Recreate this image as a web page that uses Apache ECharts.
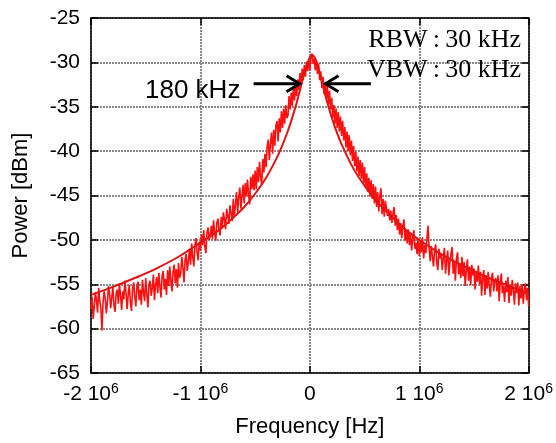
<!DOCTYPE html>
<html>
<head>
<meta charset="utf-8">
<script src="https://cdn.jsdelivr.net/npm/echarts@6/dist/echarts.min.js"></script>
<style>
html,body{margin:0;padding:0;background:#fff;}
#chart{width:556px;height:443px;}
</style>
</head>
<body>
<div id="chart"></div>
<script>
// ---- data ----
// measured spectrum: sampled every 10 kHz from -2 MHz to +2 MHz
const freqStart = -2e6;
const freqStep = 1e4;
const measuredPower = [
  -57.8,-56.4,-58.9,-57.5,-55.9,-56.8,-58.2,-55.4,-56.9,-57.6,
  -60.2,-57.1,-55.8,-56.6,-58.3,-57.0,-55.2,-56.1,-57.7,-56.5,
  -55.3,-57.4,-58.1,-56.0,-55.6,-57.2,-54.9,-56.3,-57.9,-55.8,
  -56.7,-54.6,-55.9,-57.8,-56.2,-55.1,-57.0,-58.0,-55.5,-54.8,
  -56.4,-57.5,-55.2,-54.7,-56.8,-55.6,-57.3,-54.5,-55.9,-56.9,
  -54.3,-56.1,-57.6,-55.0,-54.6,-56.3,-55.4,-53.9,-56.8,-55.1,
  -54.2,-56.0,-53.7,-55.3,-56.5,-54.0,-53.5,-55.6,-54.4,-56.2,
  -53.4,-55.2,-53.0,-54.6,-55.8,-53.6,-52.8,-54.9,-53.3,-55.4,
  -52.6,-54.3,-53.7,-51.9,-53.1,-54.8,-52.2,-51.6,-53.5,-52.4,
  -51.0,-52.8,-50.4,-51.9,-53.0,-50.6,-49.8,-51.4,-52.3,-50.2,
  -51.2,-49.4,-50.6,-48.9,-50.8,-51.5,-49.2,-48.6,-50.0,-49.5,
  -48.4,-49.9,-47.8,-49.2,-50.1,-48.1,-47.6,-48.9,-49.5,-47.4,
  -48.6,-46.9,-47.7,-48.8,-46.5,-47.3,-48.2,-46.1,-47.0,-47.9,
  -45.4,-47.3,-46.0,-44.6,-46.9,-45.2,-44.1,-46.5,-45.0,-43.8,
  -45.9,-43.6,-45.1,-43.2,-44.9,-46.0,-42.9,-44.3,-42.6,-44.4,
  -42.2,-44.3,-41.8,-43.5,-41.2,-42.9,-43.8,-40.9,-42.4,-40.3,
  -41.8,-39.5,-38.7,-41.0,-39.2,-37.9,-40.3,-37.6,-39.4,-37.1,
  -36.6,-38.9,-36.3,-37.9,-35.5,-37.4,-35.2,-36.9,-34.8,-36.3,
  -36.0,-33.8,-35.3,-33.4,-34.9,-32.7,-34.3,-32.5,-33.8,-31.9,
  -33.1,-31.2,-32.5,-30.7,-32.0,-30.3,-31.6,-29.9,-31.0,-29.7,
  -30.9,-29.4,-29.0,-30.2,-29.6,-30.9,-29.7,-31.3,-30.1,-32.0,
  -31.0,-32.9,-31.6,-33.6,-32.2,-34.1,-32.6,-34.7,-33.2,-35.3,
  -34.0,-36.2,-34.8,-36.9,-35.2,-37.4,-35.6,-37.8,-36.1,-38.3,
  -36.6,-38.8,-37.3,-39.6,-37.8,-40.0,-38.2,-40.5,-38.8,-41.1,
  -39.4,-41.7,-40.1,-42.3,-40.6,-42.8,-41.0,-43.1,-41.3,-43.6,
  -41.8,-44.1,-42.5,-44.6,-43.0,-45.1,-43.3,-45.4,-43.7,-45.9,
  -44.0,-46.3,-44.6,-46.8,-45.0,-44.2,-47.1,-45.4,-47.4,-45.6,
  -45.6,-47.3,-46.5,-47.8,-46.7,-48.1,-47.0,-46.3,-48.4,-47.2,
  -48.9,-47.6,-49.4,-48.1,-49.8,-48.5,-47.7,-50.1,-48.9,-50.4,
  -48.8,-50.6,-49.3,-51.2,-49.8,-48.9,-51.0,-50.3,-51.6,-49.9,
  -51.8,-50.2,-51.4,-49.7,-52.1,-50.6,-51.5,-49.9,-48.4,-50.9,
  -52.4,-50.7,-51.8,-53.0,-51.2,-50.5,-52.6,-53.4,-51.0,-52.1,
  -51.5,-53.4,-52.0,-50.9,-53.8,-52.3,-51.2,-54.0,-52.6,-51.6,
  -50.8,-53.8,-52.4,-54.6,-52.1,-51.4,-53.9,-52.7,-54.3,-51.9,
  -54.1,-52.5,-55.2,-53.4,-52.2,-54.6,-53.0,-55.1,-52.8,-54.0,
  -53.2,-55.6,-53.5,-54.7,-52.9,-55.0,-53.6,-56.3,-54.2,-53.4,
  -56.2,-54.0,-55.5,-53.6,-55.1,-56.4,-54.3,-53.7,-55.8,-54.6,
  -54.3,-55.8,-54.0,-56.9,-54.8,-53.8,-56.0,-55.2,-57.0,-54.6,
  -55.9,-54.2,-57.1,-55.0,-56.3,-54.5,-55.7,-57.3,-54.9,-56.0,
  -54.8,-57.4,-55.2,-56.6,-55.0,-57.2,-55.6,-54.9,-56.8,-55.4,
  -57.5
];
// fitted (smooth) curve
const fitFreq = [-2.0e6,-1.8e6,-1.6e6,-1.4e6,-1.2e6,-1.0e6,-0.9e6,-0.8e6,-0.7e6,-0.6e6,-0.5e6,-0.4e6,-0.3e6,
  -0.25e6,-0.2e6,-0.15e6,-0.1e6,-0.05e6,0,0.02e6,0.05e6,0.1e6,0.15e6,0.2e6,0.25e6,0.3e6,
  0.4e6,0.5e6,0.6e6,0.7e6,0.8e6,0.9e6,1.0e6,1.2e6,1.4e6,1.6e6,1.8e6,2.0e6];
const fitPower = [-56.2,-55.3,-54.3,-53.2,-51.9,-50.3,-49.5,-48.6,-47.5,-46.3,-44.8,-43.0,-40.7,
  -39.3,-37.7,-35.8,-33.6,-31.2,-29.4,-29.2,-29.6,-31.7,-34.1,-36.2,-38.0,-39.5,
  -42.0,-43.9,-45.5,-46.8,-48.0,-49.1,-50.0,-51.6,-52.9,-54.1,-55.1,-56.1];
// axis ticks
const xTicks = [-2e6,-1e6,0,1e6,2e6];
const yTicks = [-65,-60,-55,-50,-45,-40,-35,-30,-25];
// annotation: 180 kHz linewidth arrows (data coordinates)
const arrowLevel = -32.4;
const arrowLeft = [-0.514e6, -0.094e6];   // from, tip
const arrowRight = [0.558e6, 0.143e6];    // from, tip
const labels = {width: '180 kHz', rbw: 'RBW\u2009:\u200930 kHz', vbw: 'VBW\u2009:\u200930 kHz',
  xName: 'Frequency [Hz]', yName: 'Power [dBm]'};

// ---- build ----
const measured = measuredPower.map((p, i) => [freqStart + i * freqStep, p]);
const fit = fitFreq.map((f, i) => [f, fitPower[i]]);

const chart = echarts.init(document.getElementById('chart'), null, {renderer: 'canvas'});
const sans = 'Liberation Sans, Arial, Helvetica, sans-serif';
const serif = 'Liberation Serif, Times New Roman, serif';
const gridLine = {show: true, lineStyle: {color: '#8a8a8a', width: 2, type: [2, 1]}};
const frame = {show: true, onZero: false, lineStyle: {color: '#000', width: 1.5}};
const tick = {show: true, inside: true, length: 7, lineStyle: {color: '#000', width: 1.5}};

function xFmt(v) {
  if (v === 0) return '{n|0}';
  return '{n|' + (v / 1e6) + ' 10}{s|6}';
}

chart.setOption({
  animation: false,
  backgroundColor: '#fff',
  grid: {left: 91, right: 26, top: 18, bottom: 67},
  xAxis: [{
    type: 'value', min: xTicks[0], max: xTicks[xTicks.length - 1], interval: 1e6,
    position: 'bottom',
    axisLine: frame, axisTick: tick, splitLine: gridLine,
    axisLabel: {margin: 9, formatter: xFmt, color: '#000',
      rich: {n: {fontSize: 21, fontFamily: sans, color: '#000', lineHeight: 24},
             s: {fontSize: 14, fontFamily: sans, color: '#000', verticalAlign: 'top', lineHeight: 14}}},
    name: labels.xName, nameLocation: 'middle', nameGap: 43,
    nameTextStyle: {fontSize: 22, fontFamily: sans, color: '#000'}
  }, {
    type: 'value', min: xTicks[0], max: xTicks[xTicks.length - 1], interval: 1e6,
    position: 'top', axisLine: frame, axisTick: tick, splitLine: {show: false},
    axisLabel: {show: false}
  }],
  yAxis: [{
    type: 'value', min: yTicks[0], max: yTicks[yTicks.length - 1], interval: 5,
    position: 'left',
    axisLine: frame, axisTick: tick, splitLine: gridLine,
    axisLabel: {margin: 11, fontSize: 21, fontFamily: sans, color: '#000'},
    name: labels.yName, nameLocation: 'middle', nameGap: 59,
    nameTextStyle: {fontSize: 22, fontFamily: sans, color: '#000'}
  }, {
    type: 'value', min: yTicks[0], max: yTicks[yTicks.length - 1], interval: 5,
    position: 'right', axisLine: frame, axisTick: tick, splitLine: {show: false},
    axisLabel: {show: false}
  }],
  series: [{
    type: 'line', name: 'measured', data: measured, showSymbol: false, symbol: 'none',
    lineStyle: {color: '#ff1010', width: 1.6}, z: 3, clip: true
  }, {
    type: 'line', name: 'fit', data: fit, smooth: 0.4, showSymbol: false, symbol: 'none',
    lineStyle: {color: '#e01414', width: 2}, z: 4, clip: true
  }, {
    type: 'custom', name: 'arrows', data: [[0, arrowLevel]], z: 6, silent: true,
    renderItem: function (params, api) {
      const children = [];
      [arrowLeft, arrowRight].forEach(function (a) {
        const p0 = api.coord([a[0], arrowLevel]);
        const p1 = api.coord([a[1], arrowLevel]);
        const dir = Math.sign(p1[0] - p0[0]);
        children.push({type: 'line', shape: {x1: p0[0], y1: p0[1], x2: p1[0] - dir * 2, y2: p1[1]},
          style: {stroke: '#000', lineWidth: 3}});
        children.push({type: 'polyline', shape: {points: [[p1[0] - dir * 13, p1[1] - 8], [p1[0], p1[1]], [p1[0] - dir * 13, p1[1] + 8]]},
          style: {stroke: '#000', lineWidth: 3, fill: null}});
      });
      return {type: 'group', children: children};
    }
  }],
  graphic: [
    {type: 'text', left: 145, top: 78, z: 10,
      style: {text: labels.width, fontSize: 26, fontFamily: sans, fill: '#000'}},
    {type: 'text', right: 35, top: 27, z: 10,
      style: {text: labels.rbw, fontSize: 26, fontFamily: serif, fill: '#000'}},
    {type: 'text', right: 35, top: 57, z: 10,
      style: {text: labels.vbw, fontSize: 26, fontFamily: serif, fill: '#000'}}
  ]
});
</script>
</body>
</html>
